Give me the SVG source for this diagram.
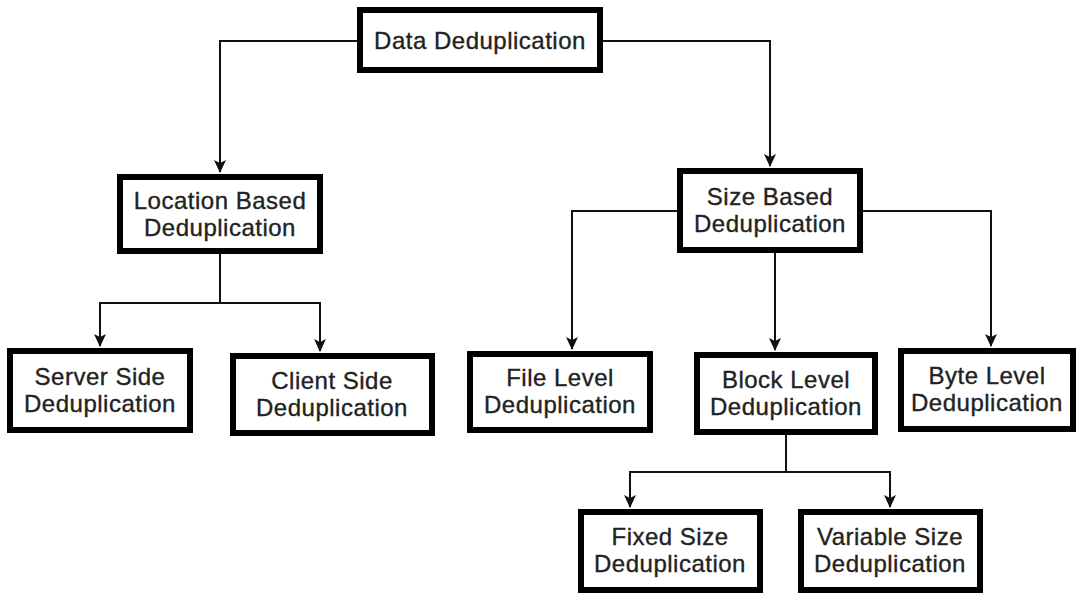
<svg xmlns="http://www.w3.org/2000/svg" width="1076" height="593" viewBox="0 0 1076 593">
  <style>
    .box { fill: #ffffff; stroke: #000000; stroke-width: 6; }
    .lbl { font-family: "Liberation Sans", Arial, sans-serif; font-size: 24px; letter-spacing: 0.5px; fill: #222222; stroke: #222222; stroke-width: 0.35; text-anchor: middle; }
    .edge { fill: none; stroke: #111111; stroke-width: 2; }
  </style>
  <defs>
    <marker id="arrow" markerUnits="userSpaceOnUse" markerWidth="14" markerHeight="14" refX="12" refY="7" orient="auto">
      <path d="M0,1 L13,7 L0,13 L3,7 z" fill="#111111"/>
    </marker>
  </defs>
  <rect width="1076" height="593" fill="#ffffff"/>

  <!-- tree edges, parent to child -->
  <g id="connectors">
    <path class="edge" d="M357,41 H220 V172" marker-end="url(#arrow)"/>
    <path class="edge" d="M603,41 H770 V166" marker-end="url(#arrow)"/>
    <path class="edge" d="M220,254 V303 H100 V346" marker-end="url(#arrow)"/>
    <path class="edge" d="M220,303 H320 V351" marker-end="url(#arrow)"/>
    <path class="edge" d="M677,211 H572 V349" marker-end="url(#arrow)"/>
    <path class="edge" d="M863,211 H991 V346" marker-end="url(#arrow)"/>
    <path class="edge" d="M775,253 V350" marker-end="url(#arrow)"/>
    <path class="edge" d="M786,435 V472 H630 V507" marker-end="url(#arrow)"/>
    <path class="edge" d="M786,472 H890 V507" marker-end="url(#arrow)"/>
  </g>

  <g id="data-dedup">
    <rect class="box" x="360" y="10" width="240" height="60"/>
    <text class="lbl" x="480" y="49">Data Deduplication</text>
  </g>
  <g id="location-based">
    <rect class="box" x="120" y="177" width="200" height="74"/>
    <text class="lbl" x="220" y="209">Location Based</text>
    <text class="lbl" x="220" y="236">Deduplication</text>
  </g>
  <g id="size-based">
    <rect class="box" x="680" y="171" width="180" height="79"/>
    <text class="lbl" x="770" y="205">Size Based</text>
    <text class="lbl" x="770" y="232">Deduplication</text>
  </g>
  <g id="server-side">
    <rect class="box" x="10" y="351" width="180" height="79"/>
    <text class="lbl" x="100" y="385">Server Side</text>
    <text class="lbl" x="100" y="412">Deduplication</text>
  </g>
  <g id="client-side">
    <rect class="box" x="233" y="356" width="199" height="77"/>
    <text class="lbl" x="332" y="389">Client Side</text>
    <text class="lbl" x="332" y="416">Deduplication</text>
  </g>
  <g id="file-level">
    <rect class="box" x="470" y="354" width="180" height="76"/>
    <text class="lbl" x="560" y="386">File Level</text>
    <text class="lbl" x="560" y="413">Deduplication</text>
  </g>
  <g id="block-level">
    <rect class="box" x="697" y="355" width="178" height="77"/>
    <text class="lbl" x="786" y="388">Block Level</text>
    <text class="lbl" x="786" y="415">Deduplication</text>
  </g>
  <g id="byte-level">
    <rect class="box" x="901" y="351" width="172" height="78"/>
    <text class="lbl" x="987" y="384">Byte Level</text>
    <text class="lbl" x="987" y="411">Deduplication</text>
  </g>
  <g id="fixed-size">
    <rect class="box" x="581" y="512" width="179" height="78"/>
    <text class="lbl" x="670" y="545">Fixed Size</text>
    <text class="lbl" x="670" y="572">Deduplication</text>
  </g>
  <g id="variable-size">
    <rect class="box" x="801" y="512" width="179" height="78"/>
    <text class="lbl" x="890" y="545">Variable Size</text>
    <text class="lbl" x="890" y="572">Deduplication</text>
  </g>
</svg>
